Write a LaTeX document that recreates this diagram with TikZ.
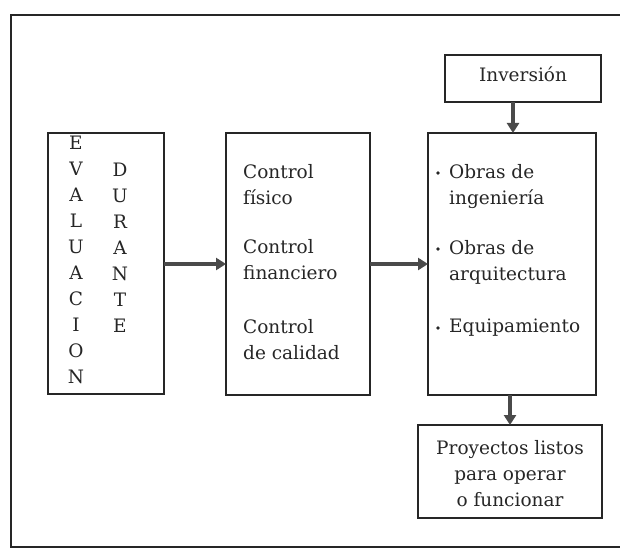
\documentclass[tikz,border=0pt]{standalone}
\usepackage{fontspec}
\setmainfont{DejaVu Serif}
\usetikzlibrary{arrows.meta}
\definecolor{ink}{HTML}{262626}
\definecolor{shaft}{HTML}{4A4A4A}
\begin{document}
\begin{tikzpicture}[x=1pt,y=-1pt,
  box/.style={draw=ink,line width=2pt},
  txt/.style={text=ink,font=\fontsize{18.5}{26}\selectfont,inner sep=0pt},
  flow/.style={draw=shaft,line width=3.2pt,-{Triangle[length=10pt,width=12pt]}},
  frame/.style={draw=ink,line width=1.8pt}]
\useasboundingbox (0,0) rectangle (620,548);
% outer frame (open on the right)
\draw[frame] (620,15) -- (11,15) -- (11,547) -- (620,547);
% boxes
\draw[box] (48,133) rectangle (164,394);
\coordinate (evalE) at (164,264);
\draw[box] (226,133) rectangle (370,395);
\coordinate (ctrlW) at (226,264);
\coordinate (ctrlE) at (370,264);
\draw[box] (428,133) rectangle (596,395);
\coordinate (obrasW) at (428,264);
\coordinate (obrasN) at (513,133);
\coordinate (obrasS) at (510,395);
\draw[box] (445,55) rectangle (601,102);
\coordinate (invS) at (513,102);
\draw[box] (418,425) rectangle (602,518);
\coordinate (proyN) at (510,425);
% texts
\foreach \c [count=\i] in {E,V,A,L,U,A,C,I,O,N}
  \node[txt] (ev\i) at (76,{143+26*(\i-1)}) {\c};
\foreach \c [count=\i] in {D,U,R,A,N,T,E}
  \node[txt] (du\i) at (120,{170+26*(\i-1)}) {\c};
\node[txt,align=left,anchor=north west] (c1) at (243,164) {Control\\físico};
\node[txt,align=left,anchor=north west] (c2) at (243,239) {Control\\financiero};
\node[txt,align=left,anchor=north west] (c3) at (243,319) {Control\\de calidad};
\node[txt,align=left,anchor=north west] (o1) at (449,164) {Obras de\\ingeniería};
\node[txt,align=left,anchor=north west] (o2) at (449,240) {Obras de\\arquitectura};
\node[txt,align=left,anchor=north west] (o3) at (449,319) {Equipamiento};
\foreach \n in {o1,o2,o3}
  \fill[ink] ([xshift=-11pt,yshift=-9pt]\n.north west) circle (1.8pt);
\node[txt] (inv) at (523,74) {Inversión};
\node[txt,align=center] (proy) at (510,474) {Proyectos listos\\para operar\\o funcionar};
% connectors
\draw[flow] (evalE) -- (ctrlW);
\draw[flow] (ctrlE) -- (obrasW);
\draw[flow] (invS) -- (obrasN);
\draw[flow] (obrasS) -- (proyN);
\end{tikzpicture}
\end{document}
